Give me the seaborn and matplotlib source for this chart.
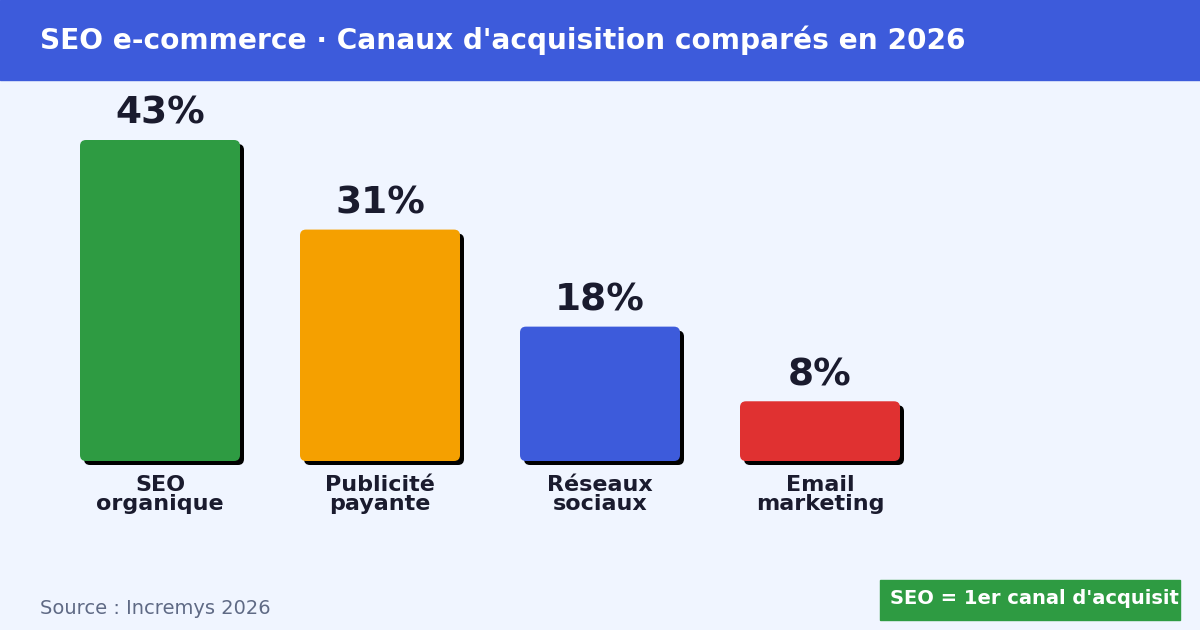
import matplotlib
matplotlib.use("Agg")
import matplotlib.pyplot as plt
from matplotlib.patches import FancyBboxPatch, Rectangle
import seaborn as sns
import pandas as pd

canaux = ["SEO\norganique", "Publicité\npayante", "Réseaux\nsociaux", "Email\nmarketing"]
parts = [43, 31, 18, 8]
couleurs = ["#2E9B42", "#F5A000", "#3D5BDB", "#E03131"]

bg = "#F0F5FF"
dark = "#1A1B2E"

sns.set_theme(style="white")
plt.rcParams['font.family'] = ['DejaVu Sans']

W, H = 1200, 630
fig = plt.figure(figsize=(12, 6.3), dpi=100, facecolor=bg)

# header band
fig.patches.append(Rectangle((0, 1 - 80 / H), 1, 80 / H, transform=fig.transFigure,
                             color="#3D5BDB", zorder=0))
fig.text(40 / W, 1 - 40 / H, "SEO e-commerce · Canaux d'acquisition comparés en 2026",
         color="white", fontsize=20.2, fontweight="bold", va="center", ha="left")

# axes: bar spacing 220 px, first bar center at 160 px, baseline at y=461
base = 461
ax = fig.add_axes([0, 1 - base / H, 1, (base - 80) / H])
ax.set_facecolor(bg)
pxx = 220.0
pxy = 321 / 43.0

df = pd.DataFrame({"canal": canaux, "part": parts})
sns.barplot(data=df, x="canal", y="part", hue="canal", palette=couleurs,
            width=160 / pxx, legend=False, ax=ax)
ax.set_xlim(-160 / pxx, (W - 160) / pxx)
ax.set_ylim(0, (base - 80) / pxy)
ax.axis("off")

r = 6
for p, c, v in zip(list(ax.patches), couleurs, parts):
    x0, w, h = p.get_x(), p.get_width(), p.get_height()
    p.set_visible(False)
    rs = r / pxx
    asp = (r / pxy) / rs
    sh = FancyBboxPatch((x0 + 4 / pxx, -4 / pxy), w, h,
                        boxstyle=f"round,pad=0,rounding_size={rs}",
                        mutation_aspect=asp, fc="black", ec="none", zorder=2, clip_on=False)
    bar = FancyBboxPatch((x0, 0), w, h,
                         boxstyle=f"round,pad=0,rounding_size={rs}",
                         mutation_aspect=asp, fc=c, ec="none", zorder=3, clip_on=False)
    ax.add_patch(sh)
    ax.add_patch(bar)
    ax.text(x0 + w / 2, h + 8 / pxy, f"{v}%", ha="center", va="bottom",
            fontsize=27, fontweight="bold", color=dark)

for i, lab in enumerate(canaux):
    fig.text((160 + i * pxx) / W, 1 - 475 / H, lab, ha="center", va="top",
             fontsize=16, fontweight="bold", color=dark, linespacing=0.95)

fig.text(40 / W, 1 - 608 / H, "Source : Incremys 2026", fontsize=14,
         color="#5F6A85", va="center", ha="left")

badge = Rectangle((880 / W, 1 - 620 / H), 300 / W, 40 / H, transform=fig.transFigure,
                  color="#2E9B42", zorder=1)
fig.patches.append(badge)
t = fig.text(890 / W, 1 - 599 / H, "SEO = 1er canal d'acquisition", fontsize=14,
             fontweight="bold", color="white", va="center", ha="left", zorder=2)
t.set_clip_path(badge)

fig.savefig("out.png", dpi=100, facecolor=bg)
